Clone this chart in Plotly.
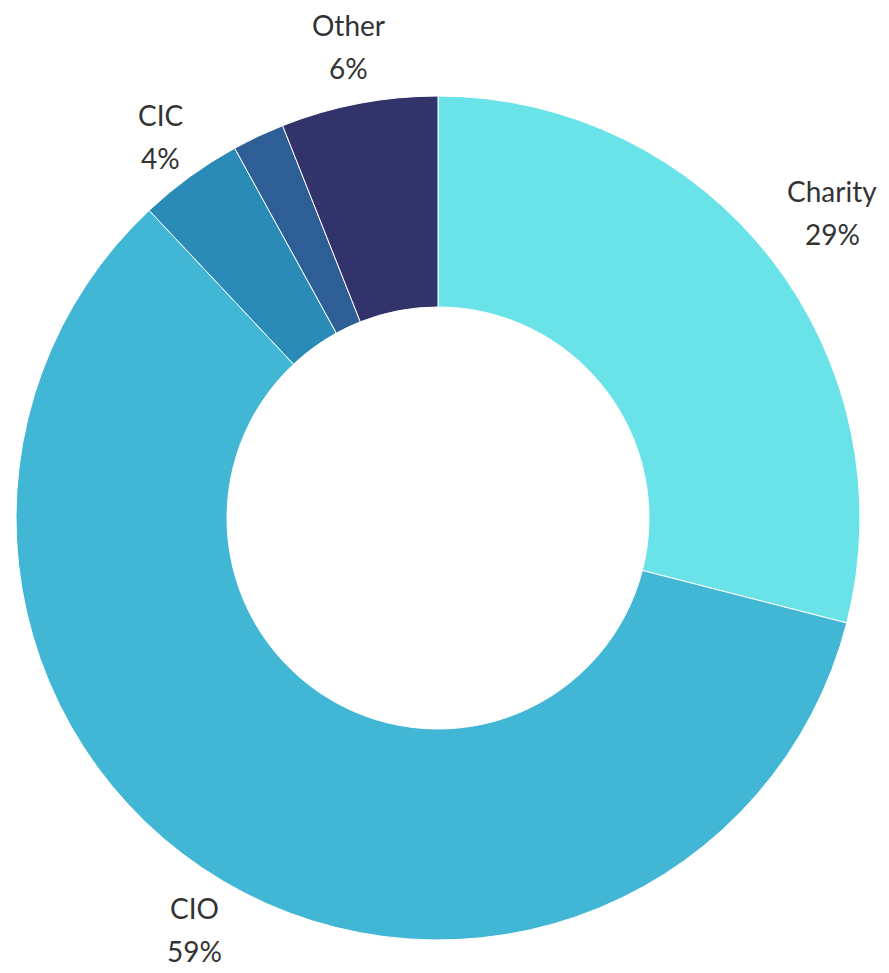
import math
import plotly.graph_objects as go

labels = ["Charity", "CIO", "CIC", "Unincorporated", "Other"]
values = [29, 59, 4, 2, 6]
show_label = [True, True, True, False, True]
colors = ["#6AE3E8", "#42B6D5", "#2A8BB6", "#2D5E95", "#31336A"]

W, H = 889, 973
ml, mr, mt, mb = 8, 37, 88, 41
pw, ph = W - ml - mr, H - mt - mb
R = min(pw, ph) / 2

fig = go.Figure(go.Pie(
    labels=labels, values=values, sort=False, direction="clockwise", rotation=0,
    hole=0.5, marker=dict(colors=colors, line=dict(color="white", width=1)),
    textinfo="none", hoverinfo="label+percent", showlegend=False,
    domain=dict(x=[0, 1], y=[0, 1]),
))

font = dict(family="Lato, sans-serif", size=28, color="#333333")
line_gap = 43
gap = 13
total = sum(values)
cum = 0
annotations = []
for lab, v, show in zip(labels, values, show_label):
    mid = (cum + v / 2) / total * 2 * math.pi
    cum += v
    if not show:
        continue
    pct = f"{round(v / total * 100)}%"
    hw = max(len(lab), len(pct)) * 14.5 / 2
    hh = line_gap / 2 + 23
    s, c = abs(math.sin(mid)), abs(math.cos(mid))
    ext = min(hw / s if s > 1e-6 else 1e9, hh / c if c > 1e-6 else 1e9)
    d = R + gap + ext
    xp = 0.5 + math.sin(mid) * d / pw
    yp = 0.5 + math.cos(mid) * d / ph
    for txt, shift in ((lab, line_gap / 2), (pct, -line_gap / 2)):
        annotations.append(dict(
            x=xp, y=yp, xref="paper", yref="paper", showarrow=False, text=txt,
            font=font, xanchor="center", yanchor="middle", yshift=shift,
        ))

fig.update_layout(
    width=W, height=H, margin=dict(l=ml, r=mr, t=mt, b=mb),
    paper_bgcolor="white", plot_bgcolor="white", annotations=annotations,
)
fig.write_html("out.html")
